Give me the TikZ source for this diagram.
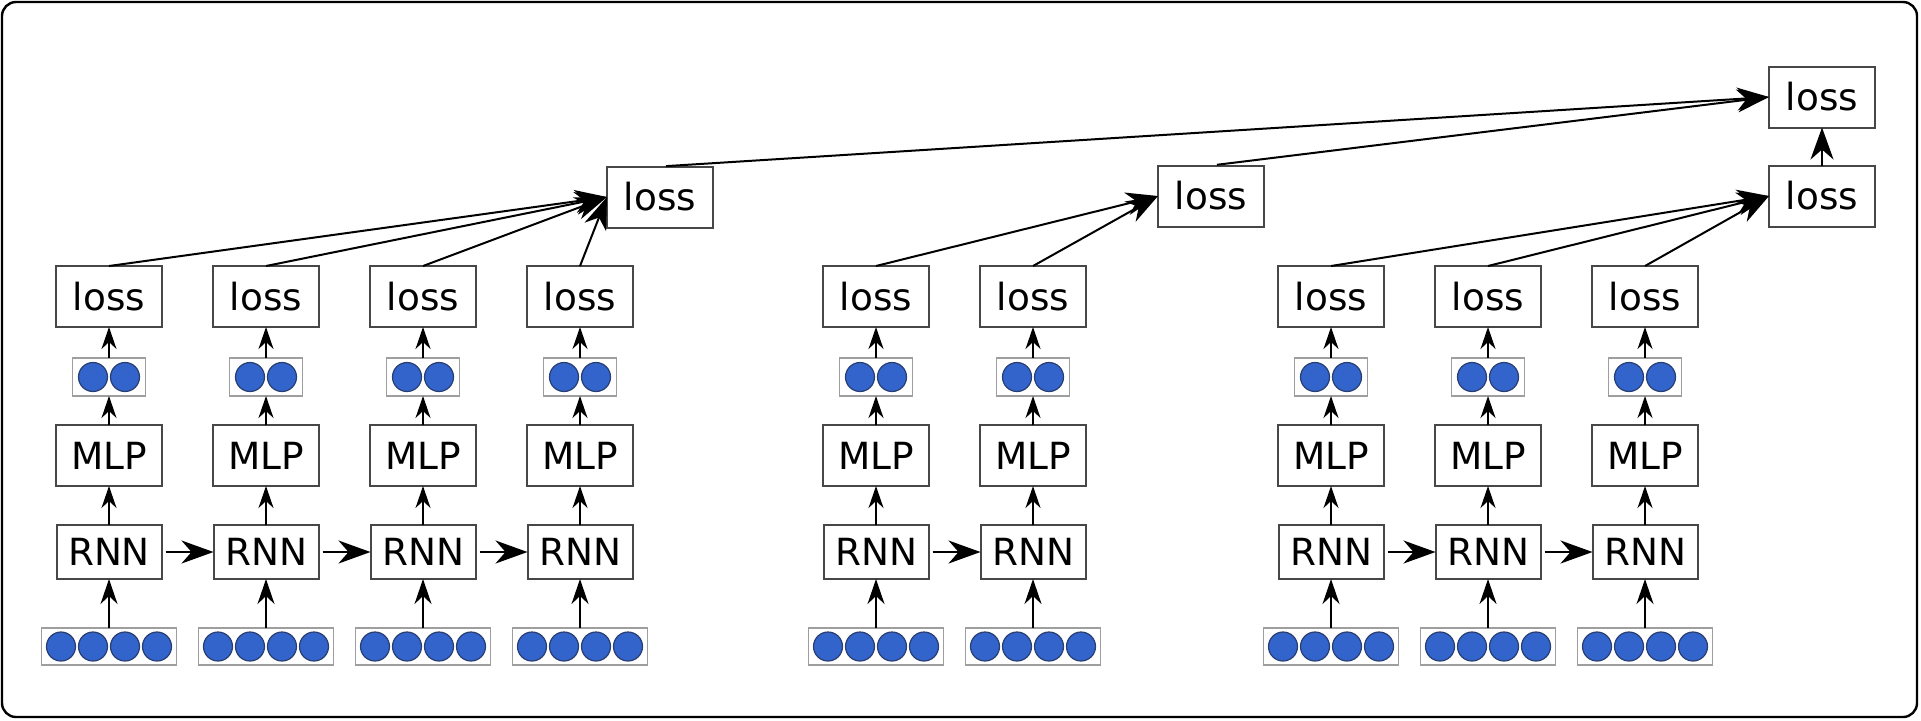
\documentclass[tikz,border=0pt]{standalone}
\usepackage{fontspec}
\setmainfont{DejaVu Sans}
\usepackage{tikz}
\usetikzlibrary{arrows.meta}
\usetikzlibrary{positioning}
\definecolor{unitblue}{RGB}{50,100,204}
\definecolor{unitedge}{RGB}{40,62,112}
\tikzset{font={\fontsize{18.7}{22}\selectfont}}
\tikzset{
	block/.style={rectangle, draw=black!72, line width=1pt, inner sep=0pt, outer sep=0pt, minimum width=53pt, minimum height=30.5pt},
	holder/.style={rectangle, draw=black!38, line width=0.8pt, inner sep=0pt, outer sep=0pt},
	unit/.style={circle, fill=unitblue, draw=unitedge, line width=0.6pt, inner sep=0pt, minimum size=14.5pt},
	up/.style={-{Stealth[length=11pt, width=7.5pt, inset=3.5pt]}, line width=1pt},
	feed/.style={-{Stealth[length=12.5pt, width=8.5pt, inset=4pt]}, line width=1pt},
	big/.style={-{Stealth[length=16pt, width=11.5pt, inset=5pt]}, line width=1pt}
}

\begin{document}
\begin{tikzpicture}[x=0.5pt, y=-0.5pt]

	\useasboundingbox (0,0) rectangle (1921,720);
	\draw[line width=1.2pt, rounded corners=7pt] (2,2) rectangle (1917,717);

	% one column per time step
	\foreach \i/\c in {1/109, 2/266, 3/423, 4/580, 5/876, 6/1033, 7/1331, 8/1488, 9/1645} {

		\node (rnn_\i) [block, minimum width=52.5pt, minimum height=27pt] at (\c,552) {RNN};

		\node (in_\i) [holder, minimum width=67.5pt, minimum height=18.5pt, below=24.5pt of rnn_\i] {};

		\node (mlp_\i) [block, above=19.5pt of rnn_\i] {MLP};

		\node (out_\i) [holder, minimum width=36.5pt, minimum height=19pt, above=14.5pt of mlp_\i] {};

		\node (loss_\i) [block, above=15.5pt of out_\i] {loss};

		\foreach \k in {1,...,4}
			\node (in_\i_\k) [unit] at ([xshift=(\k-2.5)*16pt]in_\i.center) {};

		\foreach \k in {1,2}
			\node (out_\i_\k) [unit] at ([xshift=(\k-1.5)*16pt]out_\i.center) {};

		\draw[feed] (in_\i) -- (rnn_\i);
		\draw[up] (rnn_\i) -- (mlp_\i);
		\draw[up] (mlp_\i) -- (out_\i);
		\draw[up] (out_\i) -- (loss_\i);
	}

	% recurrence
	\foreach \a/\b in {1/2, 2/3, 3/4, 5/6, 7/8, 8/9}
		\draw[big, shorten <=2pt] (rnn_\a) -- (rnn_\b);

	% sequence losses
	\node (seq_loss_a) [block] at (660,197) {loss};
	\node (seq_loss_b) [block] at (1211,196) {loss};
	\node (seq_loss_c) [block] at (1822,196) {loss};
	\node (total_loss) [block, above=19pt of seq_loss_c] {loss};

	\foreach \i in {1,...,4}
		\draw[big] (loss_\i.north) -- (seq_loss_a.west);

	\foreach \i in {5,6}
		\draw[big] (loss_\i.north) -- (seq_loss_b.west);

	\foreach \i in {7,8,9}
		\draw[big] (loss_\i.north) -- (seq_loss_c.west);

	\draw[big, shorten <=3pt] (seq_loss_a.north) -- (total_loss.west);

	\draw[big, shorten <=3pt] (seq_loss_b.north) -- (total_loss.west);

	\draw[big] (seq_loss_c) -- (total_loss);

\end{tikzpicture}
\end{document}
